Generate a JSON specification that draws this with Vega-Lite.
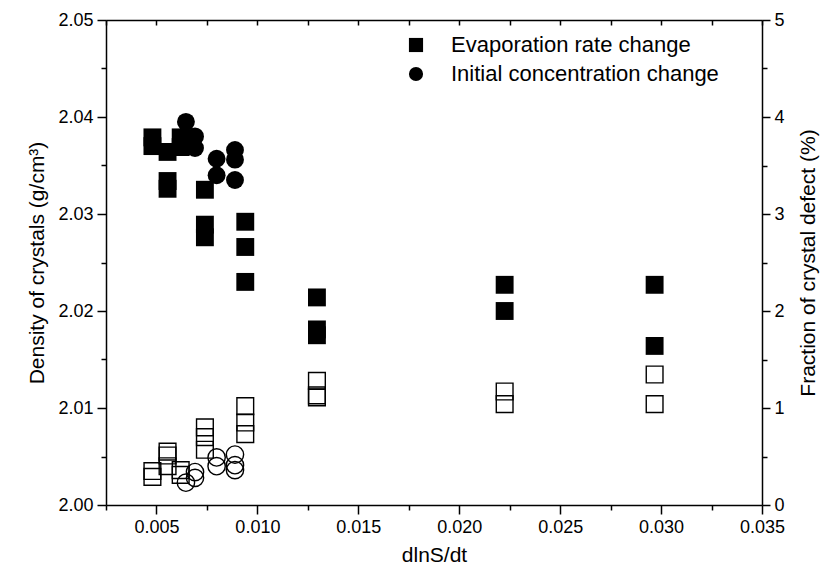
{
  "$schema": "https://vega.github.io/schema/vega-lite/v6.json",
  "width": 656,
  "height": 485,
  "autosize": {"type": "none"},
  "padding": {"left": 106, "top": 20, "right": 60, "bottom": 70},
  "background": "white",
  "config": {
    "view": {"stroke": null},
    "font": "Liberation Sans",
    "axis": {
      "domainColor": "black", "domainWidth": 1.5,
      "ticks": true, "tickColor": "black", "tickWidth": 1.5, "tickOpacity": 1,
      "labelColor": "black", "titleColor": "black",
      "labelFont": "Liberation Sans", "titleFont": "Liberation Sans",
      "labelFontSize": 18, "titleFontSize": 21, "titleFontWeight": "normal",
      "grid": false, "labelFlush": false, "labelOverlap": false
    }
  },
  "datasets": {
    "pts": [
      {"series": "Evaporation rate change", "rate": 0.0048, "density": 2.0379, "defect": 0.35},
      {"series": "Evaporation rate change", "rate": 0.0048, "density": 2.0370, "defect": 0.29},
      {"series": "Evaporation rate change", "rate": 0.00555, "density": 2.0364, "defect": 0.55},
      {"series": "Evaporation rate change", "rate": 0.00555, "density": 2.0334, "defect": 0.51},
      {"series": "Evaporation rate change", "rate": 0.00555, "density": 2.0326, "defect": 0.40},
      {"series": "Evaporation rate change", "rate": 0.0062, "density": 2.0379, "defect": 0.36},
      {"series": "Evaporation rate change", "rate": 0.0062, "density": 2.0369, "defect": 0.31},
      {"series": "Evaporation rate change", "rate": 0.0074, "density": 2.0325, "defect": 0.80},
      {"series": "Evaporation rate change", "rate": 0.0074, "density": 2.0289, "defect": 0.70},
      {"series": "Evaporation rate change", "rate": 0.0074, "density": 2.0276, "defect": 0.57},
      {"series": "Evaporation rate change", "rate": 0.0094, "density": 2.0292, "defect": 1.02},
      {"series": "Evaporation rate change", "rate": 0.0094, "density": 2.0266, "defect": 0.85},
      {"series": "Evaporation rate change", "rate": 0.0094, "density": 2.0230, "defect": 0.73},
      {"series": "Evaporation rate change", "rate": 0.01295, "density": 2.0214, "defect": 1.28},
      {"series": "Evaporation rate change", "rate": 0.01295, "density": 2.0181, "defect": 1.13},
      {"series": "Evaporation rate change", "rate": 0.01295, "density": 2.0175, "defect": 1.11},
      {"series": "Evaporation rate change", "rate": 0.02225, "density": 2.0227, "defect": 1.17},
      {"series": "Evaporation rate change", "rate": 0.02225, "density": 2.0200, "defect": 1.04},
      {"series": "Evaporation rate change", "rate": 0.02968, "density": 2.0227, "defect": 1.345},
      {"series": "Evaporation rate change", "rate": 0.02968, "density": 2.0164, "defect": 1.04},
      {"series": "Initial concentration change", "rate": 0.00646, "density": 2.0395, "defect": 0.23},
      {"series": "Initial concentration change", "rate": 0.00691, "density": 2.0380, "defect": 0.28},
      {"series": "Initial concentration change", "rate": 0.00691, "density": 2.0368, "defect": 0.34},
      {"series": "Initial concentration change", "rate": 0.00798, "density": 2.0357, "defect": 0.49},
      {"series": "Initial concentration change", "rate": 0.00798, "density": 2.0340, "defect": 0.40},
      {"series": "Initial concentration change", "rate": 0.00889, "density": 2.0366, "defect": 0.52},
      {"series": "Initial concentration change", "rate": 0.00889, "density": 2.0356, "defect": 0.41},
      {"series": "Initial concentration change", "rate": 0.00889, "density": 2.0335, "defect": 0.36}
    ]
  },
  "data": {"name": "pts"},
  "layer": [
    {
      "mark": {"type": "point", "filled": true, "opacity": 1, "color": "black", "size": 320, "strokeWidth": 0},
      "encoding": {
        "x": {
          "field": "rate", "type": "quantitative",
          "scale": {"domain": [0.0025, 0.035], "nice": false, "zero": false},
          "axis": {
            "orient": "bottom", "title": "dlnS/dt",
            "values": [0.005, 0.01, 0.015, 0.02, 0.025, 0.03, 0.035],
            "format": ".3f", "tickSize": 9,
            "labelPadding": 4, "titlePadding": 8
          }
        },
        "y": {
          "field": "density", "type": "quantitative",
          "scale": {"domain": [2.0, 2.05], "nice": false, "zero": false},
          "axis": {
            "orient": "left", "title": "Density of crystals (g/cm³)",
            "values": [2.0, 2.01, 2.02, 2.03, 2.04, 2.05],
            "format": ".2f", "tickSize": 9,
            "labelPadding": 4, "titlePadding": 10
          }
        },
        "shape": {
          "field": "series", "type": "nominal",
          "scale": {"domain": ["Evaporation rate change", "Initial concentration change"], "range": ["square", "circle"]},
          "legend": {
            "orient": "none", "legendX": 299, "legendY": 14, "title": null,
            "labelFontSize": 22, "labelFont": "Liberation Sans", "labelColor": "black", "labelLimit": 0,
            "symbolSize": 200, "labelOffset": 24, "rowPadding": 7,
            "symbolFillColor": "black", "symbolStrokeWidth": 0
          }
        }
      }
    },
    {
      "transform": [{"filter": "datum.series == 'Evaporation rate change'"}],
      "mark": {"type": "point", "shape": "square", "filled": false, "color": "black", "opacity": 1, "size": 280, "strokeWidth": 1.4},
      "encoding": {
        "x": {
          "field": "rate", "type": "quantitative",
          "scale": {"domain": [0.0025, 0.035], "nice": false, "zero": false},
          "axis": {
            "orient": "top", "title": null, "labels": false,
            "values": [0.0025, 0.005, 0.0075, 0.01, 0.0125, 0.015, 0.0175, 0.02, 0.0225, 0.025, 0.0275, 0.03, 0.0325, 0.035],
            "tickSize": -5
          }
        },
        "y": {
          "field": "defect", "type": "quantitative",
          "scale": {"domain": [0, 5], "nice": false, "zero": false},
          "axis": {
            "orient": "right", "title": "Fraction of crystal defect (%)", "titleAngle": 270, "titleBaseline": "top",
            "values": [0, 1, 2, 3, 4, 5],
            "format": "d", "tickSize": 8,
            "labelPadding": 4, "titlePadding": 13
          }
        }
      }
    },
    {
      "transform": [{"filter": "datum.series == 'Initial concentration change'"}],
      "mark": {"type": "point", "shape": "circle", "filled": false, "color": "black", "opacity": 1, "size": 300, "strokeWidth": 1.4},
      "encoding": {
        "x": {
          "field": "rate", "type": "quantitative",
          "scale": {"domain": [0.0025, 0.035], "nice": false, "zero": false},
          "axis": {
            "orient": "bottom", "title": null, "labels": false, "domain": false,
            "values": [0.0025, 0.0075, 0.0125, 0.0175, 0.0225, 0.0275, 0.0325],
            "tickSize": 5
          }
        },
        "y": {
          "field": "defect", "type": "quantitative",
          "scale": {"domain": [0, 5], "nice": false, "zero": false},
          "axis": {
            "orient": "right", "title": null, "labels": false, "domain": false,
            "values": [0.5, 1.5, 2.5, 3.5, 4.5],
            "tickSize": 5
          }
        }
      }
    },
    {
      "mark": {"type": "point", "opacity": 0, "color": "black"},
      "encoding": {
        "x": {
          "field": "rate", "type": "quantitative",
          "scale": {"domain": [0.0025, 0.035], "nice": false, "zero": false},
          "axis": null
        },
        "y": {
          "field": "density", "type": "quantitative",
          "scale": {"domain": [2.0, 2.05], "nice": false, "zero": false},
          "axis": {
            "orient": "left", "title": null, "labels": false, "domain": false,
            "values": [2.005, 2.015, 2.025, 2.035, 2.045],
            "tickSize": 5
          }
        }
      }
    }
  ],
  "resolve": {"scale": {"x": "independent", "y": "independent"}}
}
